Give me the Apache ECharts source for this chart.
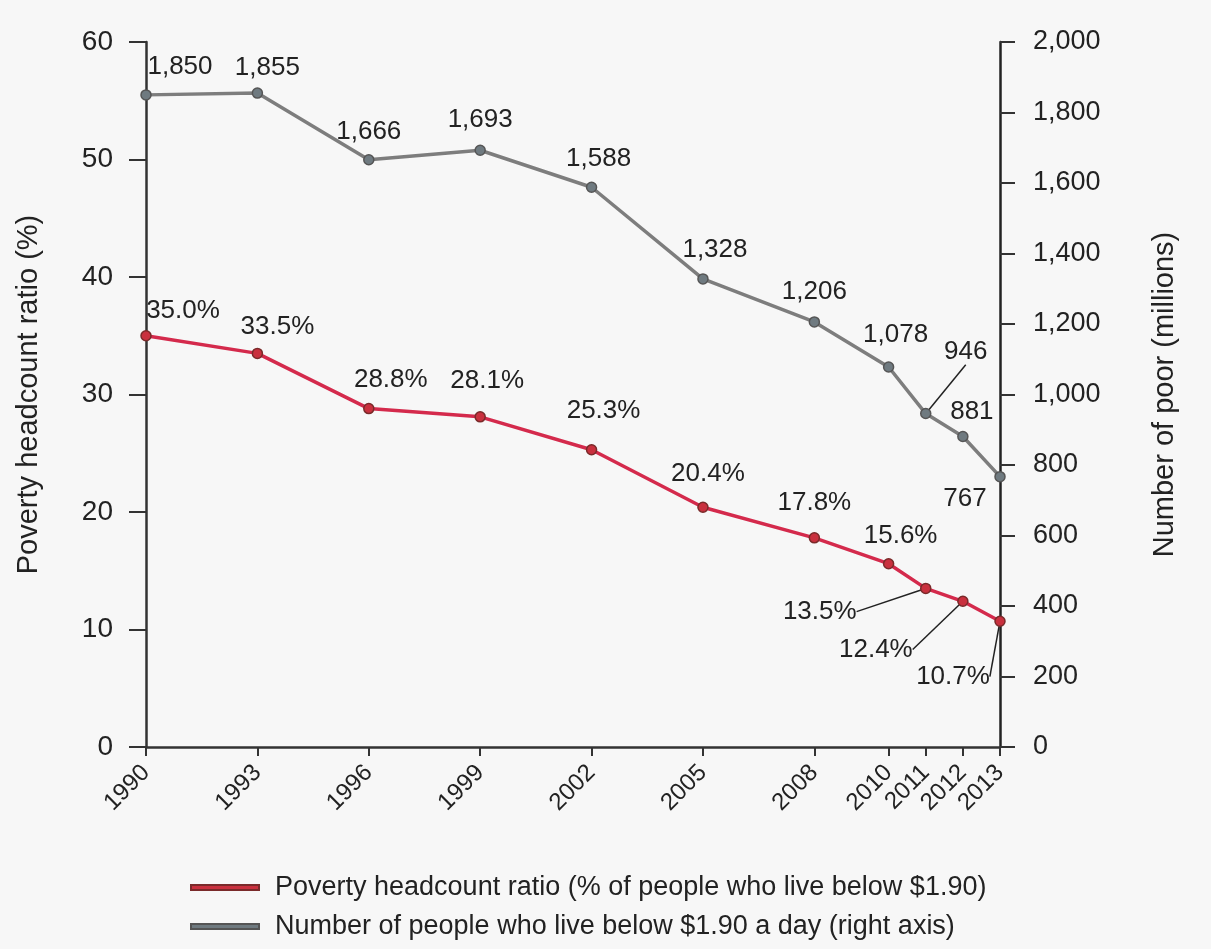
<!DOCTYPE html>
<html>
<head>
<meta charset="utf-8">
<script src="https://cdn.jsdelivr.net/npm/echarts@6/dist/echarts.min.js"></script>
<style>
html,body{margin:0;padding:0;background:#f7f7f7;}
#chart{width:1211px;height:949px;}
</style>
</head>
<body>
<div id="chart"></div>
<script>
// ---- data ----
var years = [1990, 1993, 1996, 1999, 2002, 2005, 2008, 2010, 2011, 2012, 2013];
var povertyRatio = [35.0, 33.5, 28.8, 28.1, 25.3, 20.4, 17.8, 15.6, 13.5, 12.4, 10.7];
var numberPoor = [1850, 1855, 1666, 1693, 1588, 1328, 1206, 1078, 946, 881, 767];
var leftTicks = [0, 10, 20, 30, 40, 50, 60];
var rightTicks = [0, 200, 400, 600, 800, 1000, 1200, 1400, 1600, 1800, 2000];
var ratioName = 'Poverty headcount ratio (% of people who live below $1.90)';
var poorName = 'Number of people who live below $1.90 a day (right axis)';

// ---- label placement (style only) ----
var ratioLabelShift = [[37,-1],[20,-3],[22,-5],[7,-12],[12,-15],[5,-10],[0,-11],[12,-4],[-106,47],[-87,72],[-47,79]];
var poorLabelShift = [[34,-4],[10,-2],[0,-4],[0,-7],[7,-5],[12,-5],[0,-6],[7,-8],[40,-38],[9,-1],[-35,46]];
var ratioLeader = [8, 9, 10];
var poorLeader = [8];

var FONT = "'Liberation Sans',Arial,sans-serif";

function fmtThousands(v){ return String(v).replace(/\B(?=(\d{3})+(?!\d))/g, ','); }

function buildData(vals, leaders){
  return years.map(function(y, i){
    var item = { value: [y, vals[i]] };
    if (leaders.indexOf(i) >= 0) {
      item.labelLine = { show: true, lineStyle: { color: '#222', width: 1.5 } };
    }
    return item;
  });
}

var chart = echarts.init(document.getElementById('chart'));
chart.setOption({
  backgroundColor: '#f7f7f7',
  textStyle: { fontFamily: FONT, color: '#222' },
  animation: false,
  grid: { left: 146, right: 211, top: 42, bottom: 202, containLabel: false },
  legend: {
    orient: 'vertical',
    left: 185,
    top: 869,
    itemGap: 12,
    itemWidth: 68,
    itemHeight: 5,
    icon: 'rect',
    textStyle: { fontSize: 27, color: '#222', fontFamily: FONT, padding: [0, 0, 0, 11] },
    data: [ratioName, poorName]
  },
  xAxis: {
    type: 'value',
    min: 1990,
    max: 2013,
    interval: 1,
    splitLine: { show: false },
    axisLine: { show: true, lineStyle: { color: '#333', width: 2.5 } },
    axisTick: { show: true, customValues: years, length: 9, lineStyle: { color: '#333', width: 2 } },
    axisLabel: {
      customValues: years,
      rotate: 45,
      fontSize: 24,
      color: '#222',
      margin: 22,
      formatter: function(v){ return String(v); }
    }
  },
  yAxis: [
    {
      type: 'value',
      min: 0, max: 60, interval: 10,
      position: 'left',
      name: 'Poverty headcount ratio (%)',
      nameLocation: 'middle',
      nameRotate: 90,
      nameGap: 103,
      nameTextStyle: { fontSize: 29, color: '#222' },
      splitLine: { show: false },
      axisLine: { show: true, lineStyle: { color: '#333', width: 2.5 } },
      axisTick: { show: true, length: 17, lineStyle: { color: '#333', width: 2 } },
      axisLabel: { fontSize: 28, color: '#222', margin: 33 }
    },
    {
      type: 'value',
      min: 0, max: 2000, interval: 200,
      position: 'right',
      name: 'Number of poor (millions)',
      nameLocation: 'middle',
      nameRotate: 90,
      nameGap: 150,
      nameTextStyle: { fontSize: 29, color: '#222' },
      splitLine: { show: false },
      axisLine: { show: true, lineStyle: { color: '#222', width: 2.5 } },
      axisTick: { show: true, length: 15, lineStyle: { color: '#333', width: 2 } },
      axisLabel: { fontSize: 27, color: '#222', margin: 33, formatter: function(v){ return fmtThousands(v); } }
    }
  ],
  series: [
    {
      name: ratioName,
      type: 'line',
      yAxisIndex: 0,
      data: buildData(povertyRatio, ratioLeader),
      symbol: 'circle',
      symbolSize: 10,
      lineStyle: { color: '#d42a4c', width: 3.5 },
      itemStyle: { color: '#c9303e', borderColor: '#7a2a2a', borderWidth: 1.5 },
      label: {
        show: true,
        position: 'top',
        fontSize: 26,
        color: '#222',
        formatter: function(p){ return p.value[1].toFixed(1) + '%'; }
      },
      labelLayout: function(p){
        var s = ratioLabelShift[p.dataIndex];
        return { dx: s[0], dy: s[1] };
      },
      labelLine: { show: false, lineStyle: { color: '#222', width: 1.5 } },
      z: 3
    },
    {
      name: poorName,
      type: 'line',
      yAxisIndex: 1,
      data: buildData(numberPoor, poorLeader),
      symbol: 'circle',
      symbolSize: 10,
      lineStyle: { color: '#7d7d7d', width: 3.5 },
      itemStyle: { color: '#6f7a80', borderColor: '#555', borderWidth: 1.5 },
      label: {
        show: true,
        position: 'top',
        fontSize: 26,
        color: '#222',
        formatter: function(p){ return fmtThousands(p.value[1]); }
      },
      labelLayout: function(p){
        var s = poorLabelShift[p.dataIndex];
        return { dx: s[0], dy: s[1] };
      },
      labelLine: { show: false, lineStyle: { color: '#222', width: 1.5 } },
      z: 3
    }
  ]
});
</script>
</body>
</html>
